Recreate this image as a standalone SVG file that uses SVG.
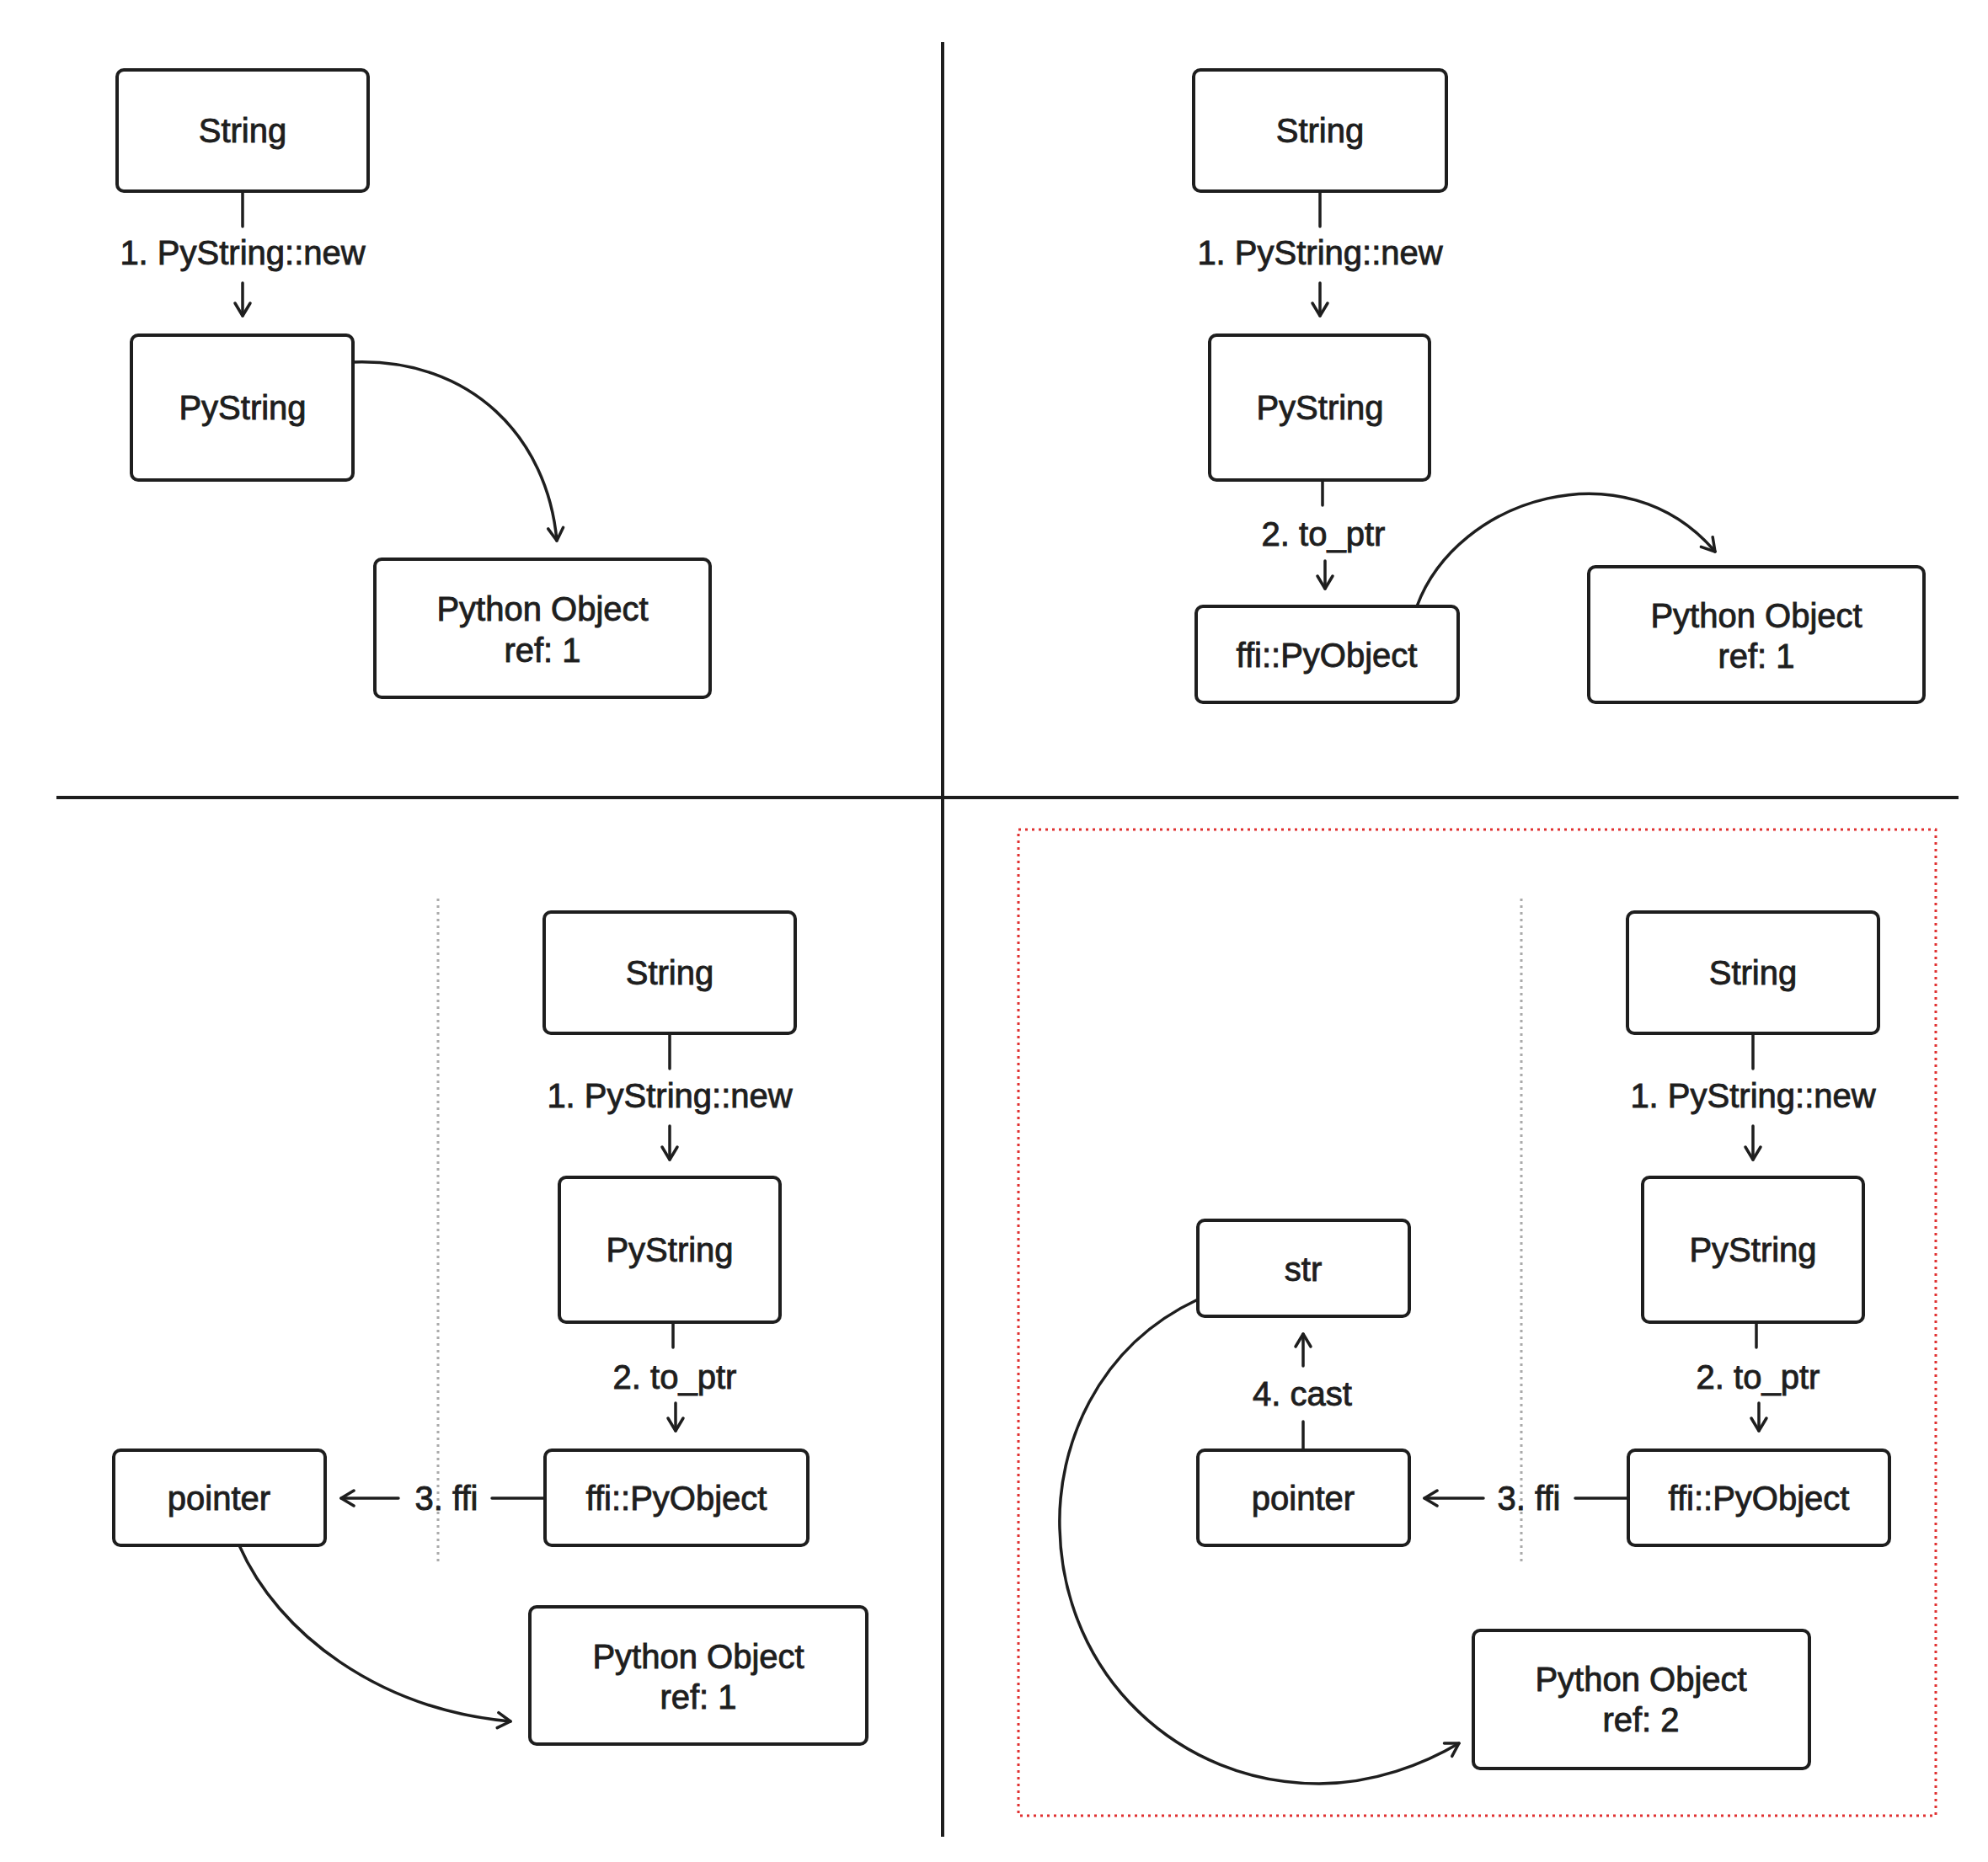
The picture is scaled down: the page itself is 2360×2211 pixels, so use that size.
<svg xmlns="http://www.w3.org/2000/svg" width="2360" height="2211" viewBox="0 0 2360 2211">
  <defs>
    <style>
      .box { fill: #ffffff; stroke: #1e1e1e; stroke-width: 4; }
      .lbl { font-family: "Liberation Sans", Arial, sans-serif; font-size: 40px; fill: #1e1e1e; stroke: #1e1e1e; stroke-width: 0.9; text-anchor: middle; }
      .conn { fill: none; stroke: #1e1e1e; stroke-width: 3.5; stroke-linecap: round; }
      .arr { fill: none; stroke: #1e1e1e; stroke-width: 3.5; stroke-linecap: round; marker-end: url(#ah); }
      .div { stroke: #1e1e1e; stroke-width: 4; }
      .sep { stroke: #aaaaaa; stroke-width: 3; stroke-dasharray: 3 5; }
    </style>
    <marker id="ah" markerUnits="userSpaceOnUse" markerWidth="26" markerHeight="26" refX="19" refY="13" orient="auto">
      <path d="M4,4 L19,13 L4,22" fill="none" stroke="#1e1e1e" stroke-width="3.5" stroke-linecap="round" stroke-linejoin="round"/>
    </marker>
  </defs>
  <rect width="2360" height="2211" fill="#ffffff"/>

  <g id="dividers">
    <line class="div" x1="1119" y1="50" x2="1119" y2="2181"/>
    <line class="div" x1="67" y1="947" x2="2325" y2="947"/>
    <line class="sep" x1="520" y1="1067" x2="520" y2="1858"/>
    <line class="sep" x1="1806" y1="1067" x2="1806" y2="1858"/>
    <rect x="1209" y="985" width="1089" height="1171" fill="none" stroke="#e03131" stroke-width="3" stroke-dasharray="3 5"/>
  </g>

  <!-- Top-left quadrant -->
  <g id="tl-string"><rect class="box" x="139" y="83" width="298" height="144" rx="8"/><text class="lbl" x="288" y="169">String</text></g>
  <g id="tl-pystring"><rect class="box" x="156" y="398" width="263" height="172" rx="8"/><text class="lbl" x="288" y="498">PyString</text></g>
  <g id="tl-pyobj"><rect class="box" x="445" y="664" width="398" height="164" rx="8"/><text class="lbl" x="644" y="737">Python Object</text><text class="lbl" x="644" y="786">ref: 1</text></g>

  <!-- Top-right quadrant -->
  <g id="tr-string"><rect class="box" x="1417" y="83" width="300" height="144" rx="8"/><text class="lbl" x="1567" y="169">String</text></g>
  <g id="tr-pystring"><rect class="box" x="1436" y="398" width="261" height="172" rx="8"/><text class="lbl" x="1567" y="498">PyString</text></g>
  <g id="tr-ffi"><rect class="box" x="1420" y="720" width="311" height="114" rx="8"/><text class="lbl" x="1575" y="792">ffi::PyObject</text></g>
  <g id="tr-pyobj"><rect class="box" x="1886" y="673" width="398" height="161" rx="8"/><text class="lbl" x="2085" y="745">Python Object</text><text class="lbl" x="2085" y="793">ref: 1</text></g>

  <!-- Bottom-left quadrant -->
  <g id="bl-string"><rect class="box" x="646" y="1083" width="298" height="144" rx="8"/><text class="lbl" x="795" y="1169">String</text></g>
  <g id="bl-pystring"><rect class="box" x="664" y="1398" width="262" height="172" rx="8"/><text class="lbl" x="795" y="1498">PyString</text></g>
  <g id="bl-ffi"><rect class="box" x="647" y="1722" width="312" height="113" rx="8"/><text class="lbl" x="803" y="1793">ffi::PyObject</text></g>
  <g id="bl-pointer"><rect class="box" x="135" y="1722" width="251" height="113" rx="8"/><text class="lbl" x="260" y="1793">pointer</text></g>
  <g id="bl-pyobj"><rect class="box" x="629" y="1908" width="400" height="163" rx="8"/><text class="lbl" x="829" y="1981">Python Object</text><text class="lbl" x="829" y="2029">ref: 1</text></g>

  <!-- Bottom-right quadrant -->
  <g id="br-string"><rect class="box" x="1932" y="1083" width="298" height="144" rx="8"/><text class="lbl" x="2081" y="1169">String</text></g>
  <g id="br-pystring"><rect class="box" x="1950" y="1398" width="262" height="172" rx="8"/><text class="lbl" x="2081" y="1498">PyString</text></g>
  <g id="br-ffi"><rect class="box" x="1933" y="1722" width="310" height="113" rx="8"/><text class="lbl" x="2088" y="1793">ffi::PyObject</text></g>
  <g id="br-pointer"><rect class="box" x="1422" y="1722" width="251" height="113" rx="8"/><text class="lbl" x="1547" y="1793">pointer</text></g>
  <g id="br-str"><rect class="box" x="1422" y="1449" width="251" height="114" rx="8"/><text class="lbl" x="1547" y="1521">str</text></g>
  <g id="br-pyobj"><rect class="box" x="1749" y="1936" width="399" height="164" rx="8"/><text class="lbl" x="1948" y="2008">Python Object</text><text class="lbl" x="1948" y="2056">ref: 2</text></g>

  <g id="connectors">
    <!-- TL -->
    <line class="conn" x1="288" y1="227" x2="288" y2="269"/>
    <text class="lbl" x="288" y="314">1. PyString::new</text>
    <line class="arr" x1="288" y1="336" x2="288" y2="375"/>
    <path class="arr" d="M419,430 C560,425 650,520 661,642"/>

    <!-- TR -->
    <line class="conn" x1="1567" y1="227" x2="1567" y2="269"/>
    <text class="lbl" x="1567" y="314">1. PyString::new</text>
    <line class="arr" x1="1567" y1="336" x2="1567" y2="375"/>
    <line class="conn" x1="1570" y1="570" x2="1570" y2="600"/>
    <text class="lbl" x="1571" y="648">2. to_ptr</text>
    <line class="arr" x1="1573" y1="666" x2="1573" y2="699"/>
    <path class="arr" d="M1682,720 C1730,590 1930,530 2036,655"/>

    <!-- BL -->
    <line class="conn" x1="795" y1="1227" x2="795" y2="1269"/>
    <text class="lbl" x="795" y="1315">1. PyString::new</text>
    <line class="arr" x1="795" y1="1337" x2="795" y2="1377"/>
    <line class="conn" x1="799" y1="1570" x2="799" y2="1600"/>
    <text class="lbl" x="801" y="1649">2. to_ptr</text>
    <line class="arr" x1="802" y1="1666" x2="802" y2="1699"/>
    <line class="conn" x1="647" y1="1779" x2="584" y2="1779"/>
    <text class="lbl" x="530" y="1793">3. ffi</text>
    <line class="arr" x1="473" y1="1779" x2="405" y2="1779"/>
    <path class="arr" d="M284,1835 C330,1940 450,2030 606,2044"/>

    <!-- BR -->
    <line class="conn" x1="2081" y1="1227" x2="2081" y2="1269"/>
    <text class="lbl" x="2081" y="1315">1. PyString::new</text>
    <line class="arr" x1="2081" y1="1337" x2="2081" y2="1377"/>
    <line class="conn" x1="2085" y1="1570" x2="2085" y2="1600"/>
    <text class="lbl" x="2087" y="1649">2. to_ptr</text>
    <line class="arr" x1="2088" y1="1666" x2="2088" y2="1699"/>
    <line class="conn" x1="1933" y1="1779" x2="1870" y2="1779"/>
    <text class="lbl" x="1815" y="1793">3. ffi</text>
    <line class="arr" x1="1761" y1="1779" x2="1691" y2="1779"/>
    <line class="conn" x1="1547" y1="1722" x2="1547" y2="1688"/>
    <text class="lbl" x="1546" y="1669">4. cast</text>
    <line class="arr" x1="1547" y1="1622" x2="1547" y2="1584"/>
    <path class="arr" d="M1422,1543 C1300,1600 1255,1720 1258,1815 C1262,1990 1400,2118 1566,2118 C1630,2118 1690,2095 1732,2070"/>
  </g>
</svg>
